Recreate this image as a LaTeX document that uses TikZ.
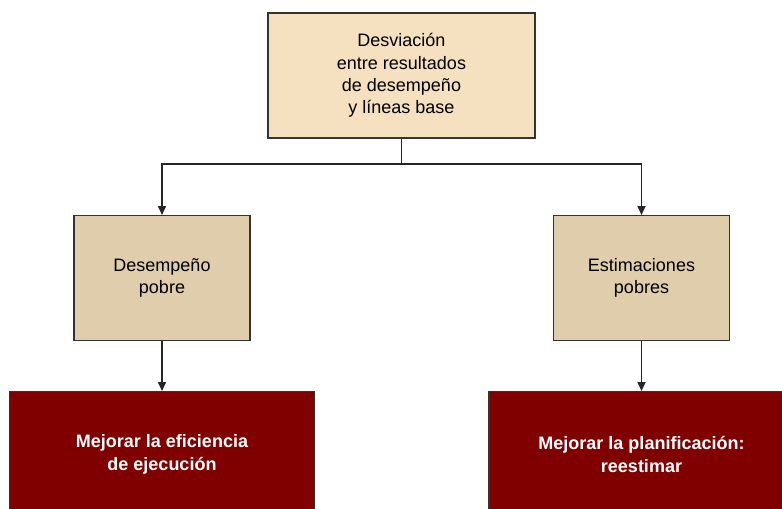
\documentclass[tikz,border=0pt]{standalone}
\usepackage{fontspec}
\setmainfont{Liberation Sans}
\usetikzlibrary{arrows.meta}
\definecolor{topfill}{HTML}{F5E0C0}
\definecolor{midfill}{HTML}{DFCDAB}
\definecolor{botfill}{HTML}{800000}
\definecolor{edge}{HTML}{333333}
\tikzset{
  box/.style={draw=edge, line width=0.9pt, align=center, inner sep=0pt,
    font=\fontsize{13.5}{16.8}\selectfont, text=black},
  topbox/.style={box, fill=topfill, minimum width=267*0.75pt, minimum height=125*0.75pt},
  midbox/.style={box, fill=midfill, minimum width=176*0.75pt, minimum height=125*0.75pt},
  botbox/.style={box, fill=botfill, text=white, minimum width=305*0.75pt, minimum height=126*0.75pt,
    font=\fontsize{13.5}{17}\selectfont\bfseries},
  conn/.style={draw=black!85, line width=0.8pt, -{Triangle[width=6pt,length=6.5pt]}},
  plain/.style={draw=black!85, line width=0.8pt}
}
\begin{document}
\begin{tikzpicture}[x=0.75pt,y=-0.75pt]
\useasboundingbox (0,0) rectangle (782,509);
\clip (0,0) rectangle (782,509);
\node[topbox] (top) at (401.5,75.5) {Desviación\\entre resultados\\de desempeño\\y líneas base};
\node[midbox] (ml) at (162,278) {Desempeño\\pobre};
\node[midbox] (mr) at (641.5,278) {Estimaciones\\pobres};
\node[botbox] (bl) at (162,454.5) {Mejorar la eficiencia\\de ejecución};
\node[botbox] (br) at (641.5,454.5) {Mejorar la planificación:\\reestimar};
\coordinate (split) at (top.south |- 0,164);
\draw[plain] (top.south) -- (split);
\draw[conn] (split) -| (ml.north);
\draw[conn] (split) -| (mr.north);
\draw[conn] (ml.south) -- (bl.north);
\draw[conn] (mr.south) -- (br.north);
\end{tikzpicture}
\end{document}
